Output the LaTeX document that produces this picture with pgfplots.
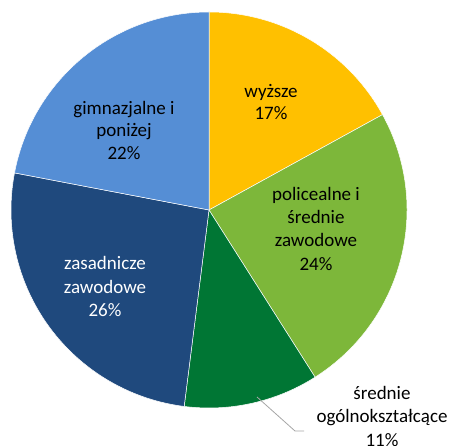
\documentclass[border=0pt]{standalone}
\usepackage{fontspec}
\setmainfont{Carlito}
\usepackage{pgfplots}
\usepackage{pgfplotstable}
\pgfplotsset{compat=1.18}

\definecolor{cYel}{HTML}{FFC000}
\definecolor{cGrn}{HTML}{7DB73A}
\definecolor{cDGrn}{HTML}{007634}
\definecolor{cDBlu}{HTML}{1F497D}
\definecolor{cLBlu}{HTML}{558ED5}

% share of each education level, clockwise from 12 o'clock
\pgfplotstableread[col sep=comma]{
level,value,col
wyzsze,17,cYel
policealne,24,cGrn
srednie_ogolne,11,cDGrn
zasadnicze,26,cDBlu
gimnazjalne,22,cLBlu
}\piedata

\newcommand{\lab}{\fontsize{19}{23}\selectfont}
\newcommand{\txt}[4][black]{\node[anchor=base,font=\lab,text=#1,inner sep=0pt] at (axis cs:#2,#3) {#4};}

\begin{document}
\begin{tikzpicture}
\begin{axis}[
    x=1pt, y=1pt,
    xmin=0, xmax=458,
    ymin=0, ymax=446,
    hide axis,
    clip=false,
]
\pgfmathsetmacro\cum{90}
\pgfplotsforeachungrouped \i in {0,...,4}{
  \pgfplotstablegetelem{\i}{value}\of\piedata
  \let\v\pgfplotsretval
  \pgfplotstablegetelem{\i}{col}\of\piedata
  \let\c\pgfplotsretval
  \pgfmathsetmacro\endang{\cum-3.6*\v}
  \edef\temp{\noexpand\fill[\c, draw=white, line width=0.5pt]
    (axis cs:209,236) -- ++(\cum:198pt)
    arc[start angle=\cum, end angle=\endang, radius=198pt] -- cycle;}
  \temp
  \global\let\cum\endang
}

% labels (baselines, picture y measured from the bottom)
\txt{271}{348}{wyższe}
\txt{271}{326}{17\%}
\txt{316}{245}{policealne i}
\txt{316}{222}{średnie}
\txt{316}{199}{zawodowe}
\txt{316}{175.5}{24\%}
\txt{124}{331}{gimnazjalne i}
\txt{124}{309}{poniżej}
\txt{124}{286}{22\%}
\txt[white]{105}{176}{zasadnicze}
\txt[white]{105}{152}{zawodowe}
\txt[white]{105}{129}{26\%}
\txt{382}{46}{średnie}
\txt{382}{23}{ogólnokształcące}
\txt{382}{-0.5}{11\%}

\draw[color=black!35, line width=0.8pt] (axis cs:257,49) -- (axis cs:295,15) -- (axis cs:304,15);
\end{axis}
\pgfresetboundingbox
\useasboundingbox (0,0) rectangle (458pt,446pt);
\end{tikzpicture}
\end{document}
